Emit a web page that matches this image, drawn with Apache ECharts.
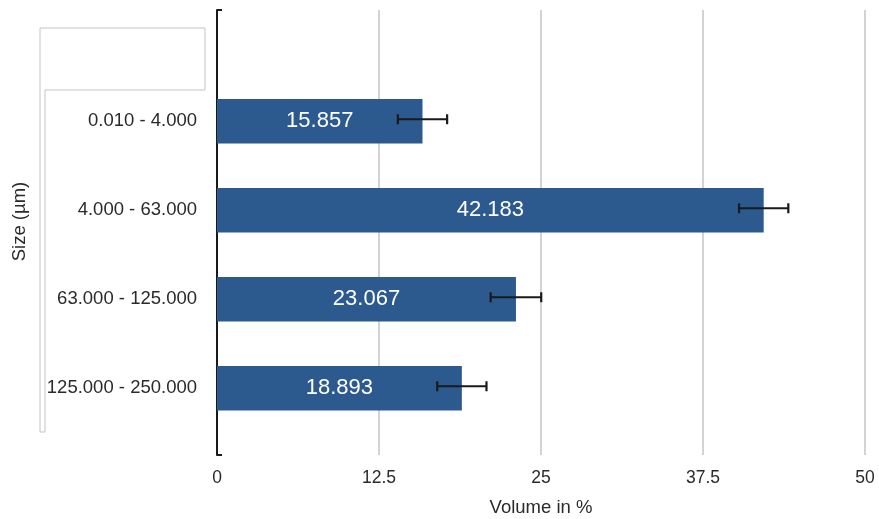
<!DOCTYPE html>
<html>
<head>
<meta charset="utf-8">
<script src="https://cdn.jsdelivr.net/npm/echarts@6/dist/echarts.min.js"></script>
<style>
html,body{margin:0;padding:0;background:#fff;}
#main{width:879px;height:519px;}
</style>
</head>
<body>
<div id="main"></div>
<script>
// ---- data ----
const sizeCategories = ['0.010 - 4.000', '4.000 - 63.000', '63.000 - 125.000', '125.000 - 250.000'];
const volumePercent = [15.857, 42.183, 23.067, 18.893];
const volumeError = [1.9, 1.9, 1.95, 1.9];
const xMin = 0, xMax = 50, xStep = 12.5;

// ---- build padded category axis (empty slot on top, spacer after each bar) ----
const axisCats = ['', ''];
const barData = [null, null];
const errData = [];
sizeCategories.forEach(function (c, i) {
  errData.push([volumePercent[i] - volumeError[i], volumePercent[i] + volumeError[i], axisCats.length]);
  axisCats.push(c, '');
  barData.push(volumePercent[i], null);
});

const font = '"Liberation Sans", Arial, Helvetica, sans-serif';
const chart = echarts.init(document.getElementById('main'), null, {renderer: 'canvas'});
chart.setOption({
  animation: false,
  backgroundColor: '#ffffff',
  grid: {left: 217, right: 14, top: 10, bottom: 64, containLabel: false, outerBoundsMode: 'none'},
  xAxis: {
    type: 'value', min: xMin, max: xMax, interval: xStep,
    name: 'Volume in %', nameLocation: 'middle', nameGap: 43,
    nameTextStyle: {fontFamily: font, fontSize: 18.5, color: '#2a2a2a'},
    axisLine: {show: false}, axisTick: {show: false},
    axisLabel: {fontFamily: font, fontSize: 17.5, color: '#2a2a2a', margin: 14},
    splitLine: {show: true, lineStyle: {color: '#c4c4c4', width: 1.5}}
  },
  yAxis: {
    type: 'category', inverse: true, data: axisCats,
    name: 'Size (µm)', nameLocation: 'middle', nameGap: 188, nameRotate: 90,
    nameTextStyle: {fontFamily: font, fontSize: 18.5, color: '#2a2a2a', padding: [0, 0, 0, 22]},
    axisLine: {show: true, lineStyle: {color: '#1a1a1a', width: 2}},
    axisTick: {show: true, inside: true, length: 5, lineStyle: {color: '#1a1a1a', width: 2},
      interval: function (index) { return index === 0; }},
    axisLabel: {interval: 0, fontFamily: font, fontSize: 18.5, color: '#2a2a2a', margin: 20},
    splitLine: {show: false}
  },
  graphic: [{
    type: 'polyline', silent: true,
    shape: {points: [[40, 28], [205, 28], [205, 90], [45, 90], [45, 432], [40, 432], [40, 28]]},
    style: {stroke: '#c4c4c4', lineWidth: 1, fill: null}
  }],
  series: [{
    type: 'bar', data: barData, barCategoryGap: '0%',
    itemStyle: {color: '#2c5a8e'},
    label: {show: true, position: 'inside', color: '#ffffff', fontFamily: font, fontSize: 22,
      formatter: function (p) { return p.value.toFixed(3); }},
    z: 2
  }, {
    type: 'custom', data: errData, encode: {x: [0, 1], y: 2}, z: 5,
    renderItem: function (params, api) {
      const lo = api.coord([api.value(0), api.value(2)]);
      const hi = api.coord([api.value(1), api.value(2)]);
      const y = lo[1] - 2, h = 5;
      const st = {stroke: '#1a1a1a', lineWidth: 2.2};
      return {type: 'group', children: [
        {type: 'line', shape: {x1: lo[0], y1: y, x2: hi[0], y2: y}, style: st},
        {type: 'line', shape: {x1: lo[0], y1: y - h, x2: lo[0], y2: y + h}, style: st},
        {type: 'line', shape: {x1: hi[0], y1: y - h, x2: hi[0], y2: y + h}, style: st}
      ]};
    }
  }]
});
</script>
</body>
</html>
